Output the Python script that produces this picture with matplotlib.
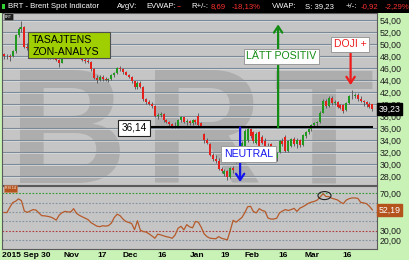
import matplotlib
matplotlib.use('Agg')
import matplotlib.pyplot as plt
from matplotlib.patches import Rectangle, Ellipse
import numpy as np

plt.rcParams['font.family'] = ['Liberation Sans', 'DejaVu Sans']

# daily candles, Brent spot, 2015-09-30 .. 2016-03-29
opens = [48.3, 48.0, 48.1, 48.0, 48.8, 51.5, 52.6, 52.9, 49.6, 49.3,
         49.9, 49.2, 49.0, 48.7, 48.1, 48.6, 47.8, 48.1, 47.9, 47.4,
         46.9, 49.0, 48.8, 49.6, 48.8, 50.5, 48.6, 48.0, 47.4, 47.2,
         47.0, 45.8, 44.4, 44.0, 44.6, 44.2, 44.0, 44.2, 44.8, 45.2,
         46.0, 45.8, 45.3, 44.9, 44.5, 43.8, 42.8, 43.6, 42.9, 40.8,
         40.4, 40.1, 39.7, 38.0, 38.2, 38.4, 37.3, 37.0, 36.7, 36.4,
         36.3, 37.4, 37.8, 37.0, 37.2, 36.8, 37.3, 38.0, 36.9, 35.0,
         34.0, 33.4, 31.6, 30.9, 30.6, 29.2, 28.4, 28.8, 27.9, 29.3,
         30.4, 31.0, 31.8, 33.0, 34.0, 35.9, 35.4, 33.6, 35.4, 34.6,
         33.8, 33.1, 33.4, 31.6, 31.0, 32.0, 33.9, 34.6, 32.2, 33.0,
         34.2, 33.3, 34.1, 33.2, 34.7, 35.3, 35.8, 36.5, 36.9, 37.0,
         38.6, 40.6, 39.7, 41.1, 40.2, 40.4, 39.8, 39.9, 39.0, 40.2,
         41.3, 41.4, 41.6, 40.9, 40.5, 40.3, 40.1, 40.0]
highs = [48.6, 48.4, 48.3, 49.0, 51.7, 52.8, 53.8, 53.1, 50.2, 50.2,
         50.0, 49.6, 49.3, 48.9, 48.7, 48.7, 48.3, 48.3, 48.0, 47.6,
         49.2, 49.4, 49.8, 49.9, 50.8, 50.6, 48.8, 48.2, 47.8, 47.6,
         47.2, 46.0, 44.8, 44.8, 44.9, 44.5, 44.4, 45.0, 45.4, 46.2,
         46.3, 46.0, 45.5, 45.1, 44.7, 43.9, 43.9, 43.8, 43.0, 41.0,
         40.7, 40.4, 39.9, 38.5, 38.7, 38.5, 37.6, 37.2, 36.9, 37.0,
         37.6, 38.0, 37.9, 37.5, 37.4, 37.5, 37.6, 38.5, 37.1, 35.2,
         34.3, 33.6, 31.9, 31.5, 31.0, 29.5, 29.2, 29.0, 29.6, 29.7,
         32.6, 32.2, 33.9, 35.8, 36.4, 36.1, 35.6, 35.3, 35.6, 34.8,
         34.3, 33.5, 33.6, 32.2, 32.0, 34.1, 34.3, 34.8, 34.0, 34.3,
         34.5, 34.3, 34.2, 35.1, 35.5, 36.0, 36.7, 37.1, 37.2, 38.8,
         40.9, 40.8, 41.3, 41.3, 40.7, 40.5, 40.1, 40.1, 40.4, 41.6,
         42.4, 41.8, 41.9, 41.3, 40.7, 40.5, 40.3, 40.1]
lows = [47.6, 47.5, 47.2, 47.8, 48.6, 51.2, 52.0, 49.3, 49.0, 49.0,
        49.0, 48.7, 48.3, 47.9, 47.8, 47.5, 47.6, 47.6, 47.2, 46.2,
        46.8, 48.5, 48.6, 48.6, 48.7, 48.4, 47.8, 47.2, 46.9, 46.8,
        45.6, 44.2, 43.6, 43.8, 43.9, 43.8, 43.7, 44.0, 44.5, 45.0,
        45.6, 45.1, 44.8, 44.3, 43.6, 42.6, 42.6, 42.7, 40.6, 40.1,
        39.8, 39.4, 37.8, 37.5, 37.8, 37.1, 36.8, 36.4, 36.1, 36.0,
        36.1, 37.0, 36.8, 36.6, 36.5, 36.6, 36.7, 36.4, 36.2, 33.6,
        33.3, 31.3, 30.6, 30.2, 29.0, 28.6, 28.1, 27.4, 27.7, 28.6,
        30.2, 30.4, 31.5, 32.8, 33.7, 34.4, 33.6, 33.4, 32.9, 33.4,
        32.9, 32.0, 31.4, 30.5, 30.6, 31.8, 33.0, 32.0, 32.0, 32.8,
        33.0, 32.7, 32.9, 33.0, 34.4, 35.0, 35.6, 36.2, 36.4, 36.9,
        38.5, 39.4, 39.5, 39.9, 39.8, 39.3, 39.2, 38.6, 38.8, 40.0,
        40.8, 41.0, 40.5, 40.4, 39.7, 39.5, 39.4, 38.8]
closes = [48.0, 48.1, 47.9, 48.8, 51.5, 52.6, 52.9, 49.5, 49.3, 49.9,
          49.2, 49.1, 48.7, 48.1, 48.6, 47.8, 48.1, 47.9, 47.4, 46.8,
          49.0, 48.8, 49.6, 48.8, 50.5, 48.6, 48.0, 47.4, 47.2, 47.0,
          45.8, 44.4, 44.0, 44.6, 44.2, 44.0, 44.2, 44.8, 45.2, 46.0,
          45.8, 45.3, 44.9, 44.5, 43.8, 42.8, 43.6, 42.9, 40.8, 40.4,
          40.1, 39.7, 38.0, 38.2, 38.4, 37.3, 37.0, 36.7, 36.4, 36.3,
          37.4, 37.8, 37.0, 37.2, 36.8, 37.3, 37.0, 36.6, 36.4, 34.0,
          33.6, 31.6, 30.9, 30.6, 29.2, 28.9, 28.9, 27.8, 29.3, 29.0,
          32.3, 31.8, 33.5, 35.5, 35.9, 34.7, 33.8, 35.1, 33.1, 33.6,
          33.1, 32.2, 31.6, 31.0, 31.8, 33.9, 33.3, 32.2, 33.8, 34.2,
          33.3, 34.1, 33.2, 34.9, 35.3, 35.8, 36.5, 36.9, 37.0, 38.6,
          40.6, 39.7, 41.1, 40.2, 40.4, 39.6, 39.4, 38.9, 40.2, 41.4,
          41.4, 41.5, 40.8, 40.5, 40.3, 40.1, 39.6, 39.23]
rsi = [49.4, 49.3, 55.0, 60.0, 61.5, 64.0, 62.0, 51.0, 49.5, 51.0,
       52.5, 52.0, 49.0, 46.0, 45.8, 45.3, 44.6, 43.2, 41.2, 46.5,
       49.2, 50.6, 50.0, 50.0, 53.5, 48.5, 46.3, 44.8, 43.2, 41.7,
       38.5, 36.6, 34.8, 34.2, 35.2, 34.8, 35.3, 38.0, 44.0, 47.6,
       46.0, 42.4, 39.8, 38.7, 37.6, 31.0, 40.5, 30.5, 29.0, 28.4,
       26.5, 24.3, 21.8, 26.2, 25.5, 24.4, 23.5, 22.8, 21.8, 25.4,
       32.5, 34.6, 30.8, 36.4, 34.0, 33.0, 39.8, 39.0, 33.5, 26.5,
       23.5, 21.9, 21.5, 21.2, 23.6, 21.8, 21.0, 20.1, 30.0, 41.0,
       39.0, 41.5, 44.0, 49.0, 55.5, 56.0, 50.3, 49.0, 53.5, 51.6,
       50.6, 43.5, 42.4, 42.4, 43.2, 49.0, 51.0, 52.5, 51.5, 52.5,
       53.8, 50.6, 54.0, 55.5, 57.3, 59.3, 60.5, 61.3, 62.7, 66.0,
       69.5, 66.5, 66.4, 64.7, 63.8, 62.8, 60.5, 58.9, 62.7, 64.2,
       65.0, 65.0, 64.5, 60.2, 59.7, 58.8, 56.0, 52.19]

date_pos = [-0.6, 23.1, 33.7, 43.4, 54.5, 66.6, 76.2, 85.5, 96.2, 106.2, 118.3]
date_labels = ['2015 Sep 30', 'Nov', '17', 'Dec', '16', 'Jan', '19', 'Feb', '16', 'Mar', '16']

zone_level = 36.14
last_price = 39.23
last_rsi = 52.19

W, H = 410, 260
BG = '#c5c5c5'
GREEN = '#1f9a1f'
RED = '#e5201c'


def fx(px):
    return px / W


def fy(py):
    return 1 - py / H


def fmt(v):
    return ('%.2f' % v).replace('.', ',')


fig = plt.figure(figsize=(4.1, 2.6), dpi=100, facecolor='#c9f2b6')
ax = fig.add_axes([fx(2), fy(185), fx(377) - fx(2), fy(13) - fy(185)], facecolor=BG)
axr = fig.add_axes([fx(2), fy(249), fx(377) - fx(2), fy(185.5) - fy(249)], facecolor=BG)

# title bar
fig.add_artist(Rectangle((0, fy(12.5)), 1, 12.5 / H, transform=fig.transFigure,
                         fc='black', ec='none'))
fig.add_artist(Rectangle((fx(2), fy(8.5)), fx(3), 4 / H, transform=fig.transFigure,
                         fc='#30d030', ec='none'))
header = [(8, 'BRT - Brent Spot Indicator', 'white'), (117, 'AvgV:', 'white'),
          (146, 'EVWAP:', 'white'), (177, '--', '#ff3030'), (191, 'R+/-:', 'white'),
          (211, '8,69', '#ff3030'), (232, '-18,13%', '#ff3030'), (272, 'VWAP:', 'white'),
          (305, 'S: 39,23', 'white'), (346, '+/-:', 'white'), (361, '-0,92', '#ff3030'),
          (385, '-2,29%', '#ff3030')]
for px, s, col in header:
    fig.text(fx(px), fy(6.5), s, color=col, fontsize=5.6, va='center', ha='left')

o = np.array(opens)
h = np.array(highs)
l = np.array(lows)
c = np.array(closes)
idx = np.arange(len(c))

# price panel
for v in range(28, 56, 2):
    ax.axhline(v, color='#7b8a99', lw=0.8, zorder=1)
    ax.axhline(v - 0.17, color='#dedede', lw=0.5, zorder=1)

for letter, xc in [('B', 22.2), ('R', 68.6), ('T', 110.0)]:
    ax.text(xc, 26.9, letter, fontsize=118, fontweight='bold', color='#adadad',
            ha='center', va='baseline', zorder=0.5)

cols = np.where(c > o, GREEN, np.where(c < o, RED, '#707070'))
ax.vlines(idx, l, h, color='#505050', lw=0.6, zorder=3)
ax.bar(idx, np.maximum(np.abs(c - o), 0.08), bottom=np.minimum(o, c), width=0.7,
       color=cols, linewidth=0, zorder=4)

ax.hlines(zone_level, 50.3, 127.3, color='black', lw=1.5, zorder=5)

ax.add_patch(Rectangle((8.3, 47.72), 28.25, 4.33, fc='#9fcf00', ec='#505050', lw=0.8, zorder=6))
ax.text(9.7, 50.62, 'TASAJTENS', fontsize=7.6, va='center', ha='left', zorder=7)
ax.text(9.7, 48.72, 'ZON-ANALYS', fontsize=7.6, va='center', ha='left', zorder=7)

ax.text(44.8, 36.05, fmt(zone_level), fontsize=7.2, ha='center', va='center', zorder=7,
        bbox=dict(boxstyle='square,pad=0.3', fc='white', ec='#222222', lw=0.8))

arrow = dict(arrowstyle='->,head_length=0.45,head_width=0.3', lw=1.6, shrinkA=0, shrinkB=0)
ax.annotate('', xy=(94.5, 53.3), xytext=(94.5, zone_level),
            arrowprops=dict(arrow, color='#148c14'), zorder=5)
ax.annotate('', xy=(81.4, 27.05), xytext=(81.4, zone_level),
            arrowprops=dict(arrow, color='#1414ee'), zorder=5)
ax.annotate('', xy=(119.5, 43.2), xytext=(119.5, 49.0),
            arrowprops=dict(arrow, color='#ee1c1c'), zorder=5)

box = dict(boxstyle='square,pad=0.25', fc='white', ec='#9a9a9a', lw=0.7)
ax.text(95.7, 47.97, 'LÄTT POSITIV', color='#148c14', fontsize=7.6, ha='center',
        va='center', bbox=box, zorder=7)
ax.text(84.3, 31.7, 'NEUTRAL', color='#1414ee', fontsize=7.6, ha='center',
        va='center', bbox=box, zorder=7)
ax.text(119.3, 49.97, 'DOJI +', color='#ee1c1c', fontsize=7.5, ha='center',
        va='center', bbox=box, zorder=7)

ax.text(0.008, 0.99, 'BRT', transform=ax.transAxes, fontsize=2.5, color='white',
        va='top', ha='left', bbox=dict(boxstyle='square,pad=0.4', fc='#202020', ec='#909090', lw=0.4))

ax.set_xlim(-0.7, 128.6)
ax.set_ylim(26.55, 55.2)
ax.yaxis.tick_right()
ax.set_yticks(range(28, 56, 2))
ax.set_yticklabels([fmt(v) for v in range(28, 56, 2)])
ax.tick_params(axis='y', length=0, pad=2, labelsize=6.3, labelcolor='#1e1e1e')
ax.set_xticks([])
ax.text(1.004, last_price, fmt(last_price), transform=ax.get_yaxis_transform(), color='white',
        fontsize=6.3, va='center', ha='left', clip_on=False, zorder=10,
        bbox=dict(boxstyle='square,pad=0.2', fc='black', ec='black'))

# RSI panel
for v, col in [(70, '#2f9a2f'), (60, '#8393a0'), (50, '#8393a0'), (40, '#8393a0'),
               (30, '#b03a3a'), (20, '#8393a0')]:
    axr.axhline(v, color=col, lw=0.8, ls=(0, (1.5, 1.5)), zorder=1)
axr.plot(idx, rsi, color='#b65a2a', lw=0.9, zorder=3)
axr.add_patch(Ellipse((110.5, 67.5), 4.5, 8.6, fill=False, ec='#222222', lw=0.8, zorder=4))
axr.text(0.008, 0.985, 'RSI 14', transform=axr.transAxes, fontsize=2.5, color='white',
         va='top', ha='left', bbox=dict(boxstyle='square,pad=0.4', fc='#b5531c', ec='#d08060', lw=0.4))

axr.set_xlim(-0.7, 128.6)
axr.set_ylim(10.3, 78.3)
axr.yaxis.tick_right()
axr.set_yticks([20, 30, 70])
axr.set_yticklabels([fmt(v) for v in [20, 30, 70]])
axr.tick_params(axis='y', length=0, pad=2, labelsize=6.3, labelcolor='#1e1e1e')
axr.text(1.004, last_rsi, fmt(last_rsi), transform=axr.get_yaxis_transform(), color='white',
         fontsize=6.3, va='center', ha='left', clip_on=False, zorder=10,
         bbox=dict(boxstyle='square,pad=0.2', fc='#b5531c', ec='#b5531c'))

axr.set_xticks(date_pos)
axr.set_xticklabels(date_labels, fontsize=6, fontweight='bold')
axr.get_xticklabels()[0].set_ha('left')
axr.tick_params(axis='x', length=0, pad=2)

for a in (ax, axr):
    for sp in a.spines.values():
        sp.set_color('#5a5a5a')
        sp.set_linewidth(0.8)

fig.savefig('out.png', dpi=100, facecolor=fig.get_facecolor())
